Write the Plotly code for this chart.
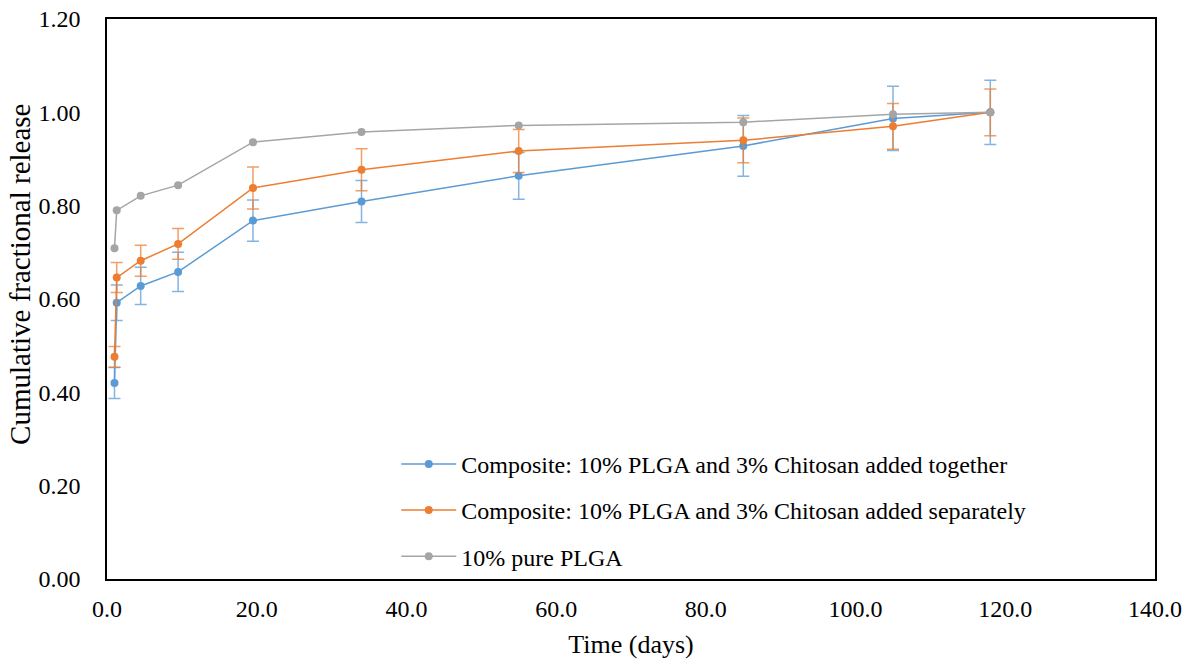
import plotly.graph_objects as go

time_days = [1.0, 1.3, 4.5, 9.5, 19.5, 34.0, 55.0, 85.0, 105.0, 118.0]

together = [0.420, 0.592, 0.628, 0.658, 0.768, 0.809, 0.864, 0.928, 0.987, 1.000]
together_err = [0.033, 0.038, 0.040, 0.042, 0.044, 0.045, 0.050, 0.065, 0.069, 0.069]

separately = [0.476, 0.646, 0.682, 0.718, 0.838, 0.877, 0.917, 0.940, 0.970, 1.000]
separately_err = [0.022, 0.032, 0.033, 0.033, 0.045, 0.045, 0.046, 0.048, 0.049, 0.050]

pure = [0.709, 0.790, 0.821, 0.844, 0.936, 0.958, 0.972, 0.979, 0.996, 1.000]

names = [
    "Composite: 10% PLGA and 3% Chitosan added together",
    "Composite: 10% PLGA and 3% Chitosan added separately",
    "10% pure PLGA",
]
x_title = "Time (days)"
y_title = "Cumulative fractional release"

FONT = "Liberation Serif"
TICK = dict(family=FONT, size=24, color="black")
LEG = dict(family=FONT, size=24, color="black")
XT = dict(family=FONT, size=26, color="black")
YT = dict(family=FONT, size=29, color="black")

fig = go.Figure()

fig.add_trace(go.Scatter(
    x=time_days, y=together, name=names[0], legendgroup="a",
    mode="lines+markers",
    line=dict(color="#5B9BD5", width=1.5),
    marker=dict(color="#5B9BD5", size=8),
    error_y=dict(type="data", array=together_err, visible=True,
                 color="rgba(91,155,213,0.75)", thickness=1.5, width=6),
))
fig.add_trace(go.Scatter(
    x=time_days, y=separately, name=names[1], legendgroup="b",
    mode="lines+markers",
    line=dict(color="#ED7D31", width=1.5),
    marker=dict(color="#ED7D31", size=8),
    error_y=dict(type="data", array=separately_err, visible=True,
                 color="rgba(237,125,49,0.75)", thickness=1.5, width=6),
))
fig.add_trace(go.Scatter(
    x=time_days, y=pure, name=names[2], legendgroup="c",
    mode="lines+markers",
    line=dict(color="#A5A5A5", width=1.5),
    marker=dict(color="#A5A5A5", size=8),
))

fig.add_annotation(
    text=y_title, textangle=-90, font=YT, showarrow=False,
    xref="paper", yref="paper", x=-0.083, y=0.543,
    xanchor="center", yanchor="middle",
)

fig.update_layout(
    width=1194, height=661,
    margin=dict(l=107, r=39, t=19, b=82),
    paper_bgcolor="white", plot_bgcolor="white",
    font=dict(family=FONT, size=24, color="black"),
    showlegend=True,
    legend=dict(
        x=0.276, y=0.245, xanchor="left", yanchor="top",
        bgcolor="rgba(0,0,0,0)", font=LEG,
        tracegroupgap=12, traceorder="grouped",
        itemwidth=55,
    ),
    xaxis=dict(
        range=[0, 140], dtick=20, tick0=0, tickformat=".1f",
        showgrid=False, zeroline=False, showline=True, mirror=True,
        linecolor="black", linewidth=1.5, ticks="",
        tickfont=TICK, automargin=False,
        ticklabelstandoff=7,
        title=dict(text=x_title, standoff=14, font=XT),
    ),
    yaxis=dict(
        range=[0, 1.2], dtick=0.2, tick0=0, tickformat=".2f",
        showgrid=False, zeroline=False, showline=True, mirror=True,
        linecolor="black", linewidth=1.5, ticks="",
        tickfont=TICK, automargin=False,
        ticklabelstandoff=20,
    ),
)

fig.write_html("out.html")
